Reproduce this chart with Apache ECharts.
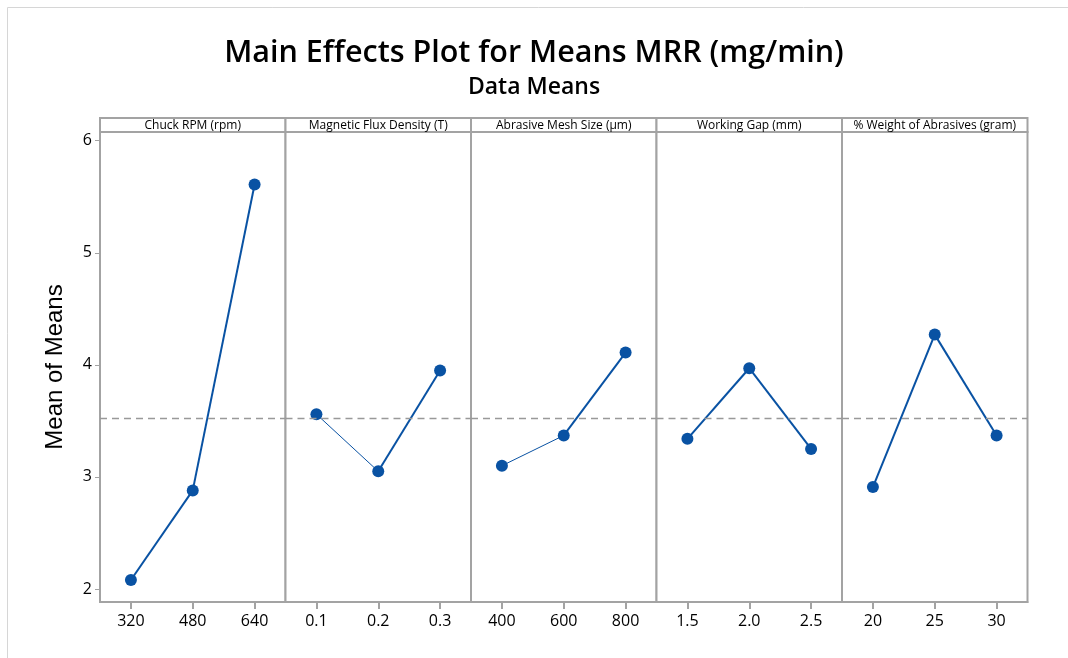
<!DOCTYPE html>
<html>
<head>
<meta charset="utf-8">
<script src="https://cdn.jsdelivr.net/npm/echarts@6/dist/echarts.min.js"></script>
<style>
html,body{margin:0;padding:0;background:#fff;}
#chart{width:1068px;height:658px;}
</style>
</head>
<body>
<div id="chart"></div>
<script>
// ---- data ----
const factors = ["Chuck RPM (rpm)", "Magnetic Flux Density (T)", "Abrasive Mesh Size (\u00b5m)", "Working Gap (mm)", "% Weight of Abrasives (gram)"];
const levelsRPM = ["320", "480", "640"];
const levelsFlux = ["0.1", "0.2", "0.3"];
const levelsMesh = ["400", "600", "800"];
const levelsGap = ["1.5", "2.0", "2.5"];
const levelsWeight = ["20", "25", "30"];
const meansRPM = [2.08, 2.88, 5.61];
const meansFlux = [3.56, 3.05, 3.95];
const meansMesh = [3.10, 3.37, 4.11];
const meansGap = [3.34, 3.97, 3.25];
const meansWeight = [2.91, 4.27, 3.37];
const yTicks = [2, 3, 4, 5, 6];

const levels = [levelsRPM, levelsFlux, levelsMesh, levelsGap, levelsWeight];
const means = [meansRPM, meansFlux, meansMesh, meansGap, meansWeight];
const allVals = means.flat();
const grandMean = allVals.reduce((a, b) => a + b, 0) / allVals.length;

// ---- style / layout ----
const segWidths = [[2, 2], [1, 2], [1, 2], [2, 2], [2, 2]];
const L = 100, R = 1027.5, TOP = 132, BOT = 602, HEAD_TOP = 118;
const PW = (R - L) / 5;
const BLUE = '#0952a3';
const GRAY = '#a3a3a3';
const FONT = 'Open Sans';

const grids = [], xAxes = [], yAxes = [], series = [], graphics = [];
for (let i = 0; i < 5; i++) {
  const left = L + i * PW;
  grids.push({left: left, width: PW, top: TOP, height: BOT - TOP, show: true, borderColor: GRAY, borderWidth: 2, backgroundColor: '#fff'});
  xAxes.push({
    type: 'category', gridIndex: i, data: levels[i], boundaryGap: true,
    axisLine: {show: true, lineStyle: {color: GRAY, width: 2}},
    axisTick: {show: true, alignWithLabel: true, length: 7, lineStyle: {color: GRAY, width: 2}},
    axisLabel: {color: '#000', fontSize: 16, fontFamily: FONT, margin: 11},
    splitLine: {show: false}
  });
  yAxes.push({
    type: 'value', gridIndex: i, min: 1.884, max: 6.078,
    axisLine: {show: i === 0, lineStyle: {color: GRAY, width: 2}},
    axisTick: {show: i === 0, length: 5, customValues: yTicks, lineStyle: {color: GRAY, width: 1}},
    axisLabel: {show: i === 0, customValues: yTicks, color: '#000', fontSize: 16, fontFamily: FONT, margin: 8},
    splitLine: {show: false},
    name: i === 0 ? 'Mean of Means' : '', nameLocation: 'middle', nameGap: 33,
    nameTextStyle: {fontFamily: 'Liberation Sans', fontSize: 24, color: '#000'}
  });
  const d = means[i];
  series.push({
    type: 'line', xAxisIndex: i, yAxisIndex: i,
    data: [d[0], d[1], '-'], symbol: 'none', silent: true,
    lineStyle: {color: BLUE, width: segWidths[i][0]}, z: 2,
    markLine: {silent: true, symbol: 'none', label: {show: false},
      lineStyle: {color: '#999', type: [7, 5], width: 1.3},
      data: [{yAxis: grandMean}]}
  });
  series.push({
    type: 'line', xAxisIndex: i, yAxisIndex: i,
    data: ['-', d[1], d[2]], symbol: 'none', silent: true,
    lineStyle: {color: BLUE, width: segWidths[i][1]}, z: 2
  });
  series.push({
    type: 'scatter', xAxisIndex: i, yAxisIndex: i,
    data: d, symbol: 'circle', symbolSize: 12,
    itemStyle: {color: BLUE, opacity: 1}, z: 3
  });
  graphics.push({type: 'rect', shape: {x: left, y: HEAD_TOP, width: PW, height: TOP - HEAD_TOP},
    style: {fill: '#fff', stroke: GRAY, lineWidth: 2}, z: 10});
  graphics.push({type: 'text', x: left + PW / 2, y: HEAD_TOP + (TOP - HEAD_TOP) / 2 + 0.5,
    style: {text: factors[i], fill: '#000', font: '12px "' + FONT + '"', align: 'center', verticalAlign: 'middle'}, z: 11});
}
graphics.push({type: 'rect', shape: {x: 7.5, y: 7.5, width: 1100, height: 700},
  style: {fill: 'none', stroke: '#d6d6d6', lineWidth: 1}, z: 0, silent: true});

const chart = echarts.init(document.getElementById('chart'), null, {renderer: 'canvas'});
chart.setOption({
  backgroundColor: '#fff',
  animation: false,
  title: [
    {text: 'Main Effects Plot for Means MRR (mg/min)', left: 'center', top: 33,
      textStyle: {fontFamily: FONT, fontSize: 30.5, fontWeight: 600, color: '#000'}},
    {text: 'Data Means', left: 'center', top: 71,
      textStyle: {fontFamily: FONT, fontSize: 23, fontWeight: 600, color: '#000'}}
  ],
  grid: grids, xAxis: xAxes, yAxis: yAxes, series: series,
  graphic: graphics
});
</script>
</body>
</html>
